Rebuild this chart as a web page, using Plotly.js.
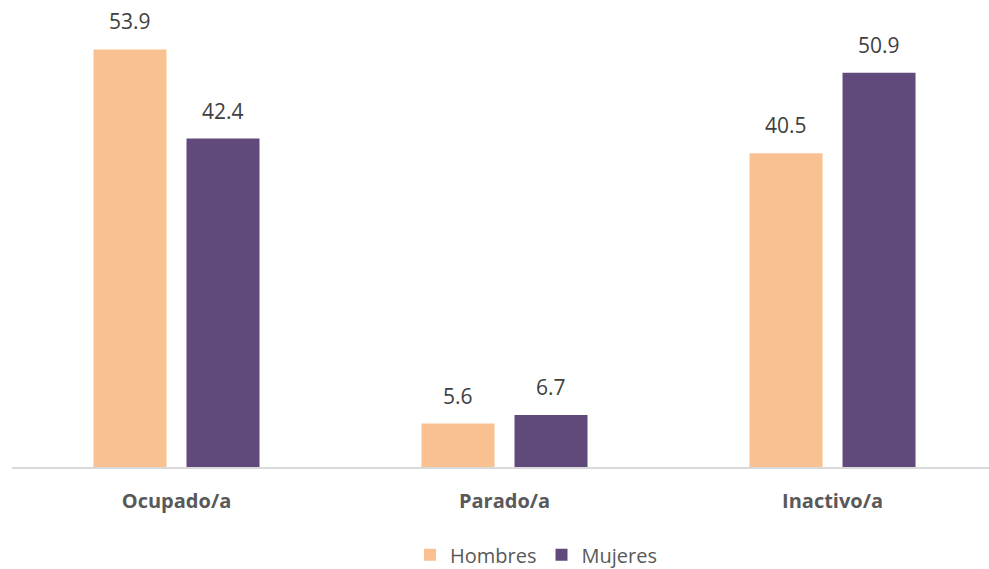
<!DOCTYPE html>
<html>
<head>
<meta charset="utf-8">
<script src="https://cdn.plot.ly/plotly-3.0.1.min.js"></script>
<style>html,body{margin:0;padding:0;background:#fff;}#chart{width:989px;height:569px;}</style>
</head>
<body>
<div id="chart"></div>
<script>
const categories = ["Ocupado/a", "Parado/a", "Inactivo/a"];
const hombres = [53.9, 5.6, 40.5];
const mujeres = [42.4, 6.7, 50.9];
const seriesNames = ["Hombres", "Mujeres"];
const colors = ["#F9C192", "#604A7B"];

const traces = [
  {type: "bar", name: seriesNames[0], x: categories, y: hombres, marker: {color: colors[0]}, hoverinfo: "none"},
  {type: "bar", name: seriesNames[1], x: categories, y: mujeres, marker: {color: colors[1]}, hoverinfo: "none"}
];

const annotations = [];
[hombres, mujeres].forEach((vals, si) => {
  vals.forEach((v, i) => {
    annotations.push({
      x: categories[i], y: v, xref: "x", yref: "y",
      text: v.toFixed(1), showarrow: false,
      xanchor: "center", yanchor: "bottom",
      xshift: si === 0 ? -46.5 : 46.5, yshift: 12,
      font: {family: "Open Sans, sans-serif", size: 21, color: "#404040"}
    });
  });
});

const layout = {
  width: 989, height: 569,
  margin: {l: 12, r: 0, t: 20, b: 102, autoexpand: false},
  paper_bgcolor: "#ffffff", plot_bgcolor: "#ffffff",
  barmode: "group", bargap: 0.433, bargroupgap: 0.215,
  showlegend: true,
  legend: {orientation: "h", xref: "container", yref: "container", x: 0.542, xanchor: "center", y: 0.025, yanchor: "middle",
           font: {family: "Open Sans, sans-serif", size: 20, color: "#595959"}},
  xaxis: {range: [-0.5015, 2.477], showline: true, linecolor: "#D9D9D9", linewidth: 2,
          ticks: "", ticklabelstandoff: 15, showgrid: false, zeroline: false, fixedrange: true, automargin: false,
          tickfont: {family: "Open Sans, sans-serif", size: 20, color: "#595959", weight: "bold"}},
  yaxis: {range: [0, 57.7], visible: false, showgrid: false, zeroline: false, fixedrange: true},
  annotations: annotations
};

Plotly.newPlot("chart", traces, layout, {displayModeBar: false, staticPlot: true});
</script>
</body>
</html>
